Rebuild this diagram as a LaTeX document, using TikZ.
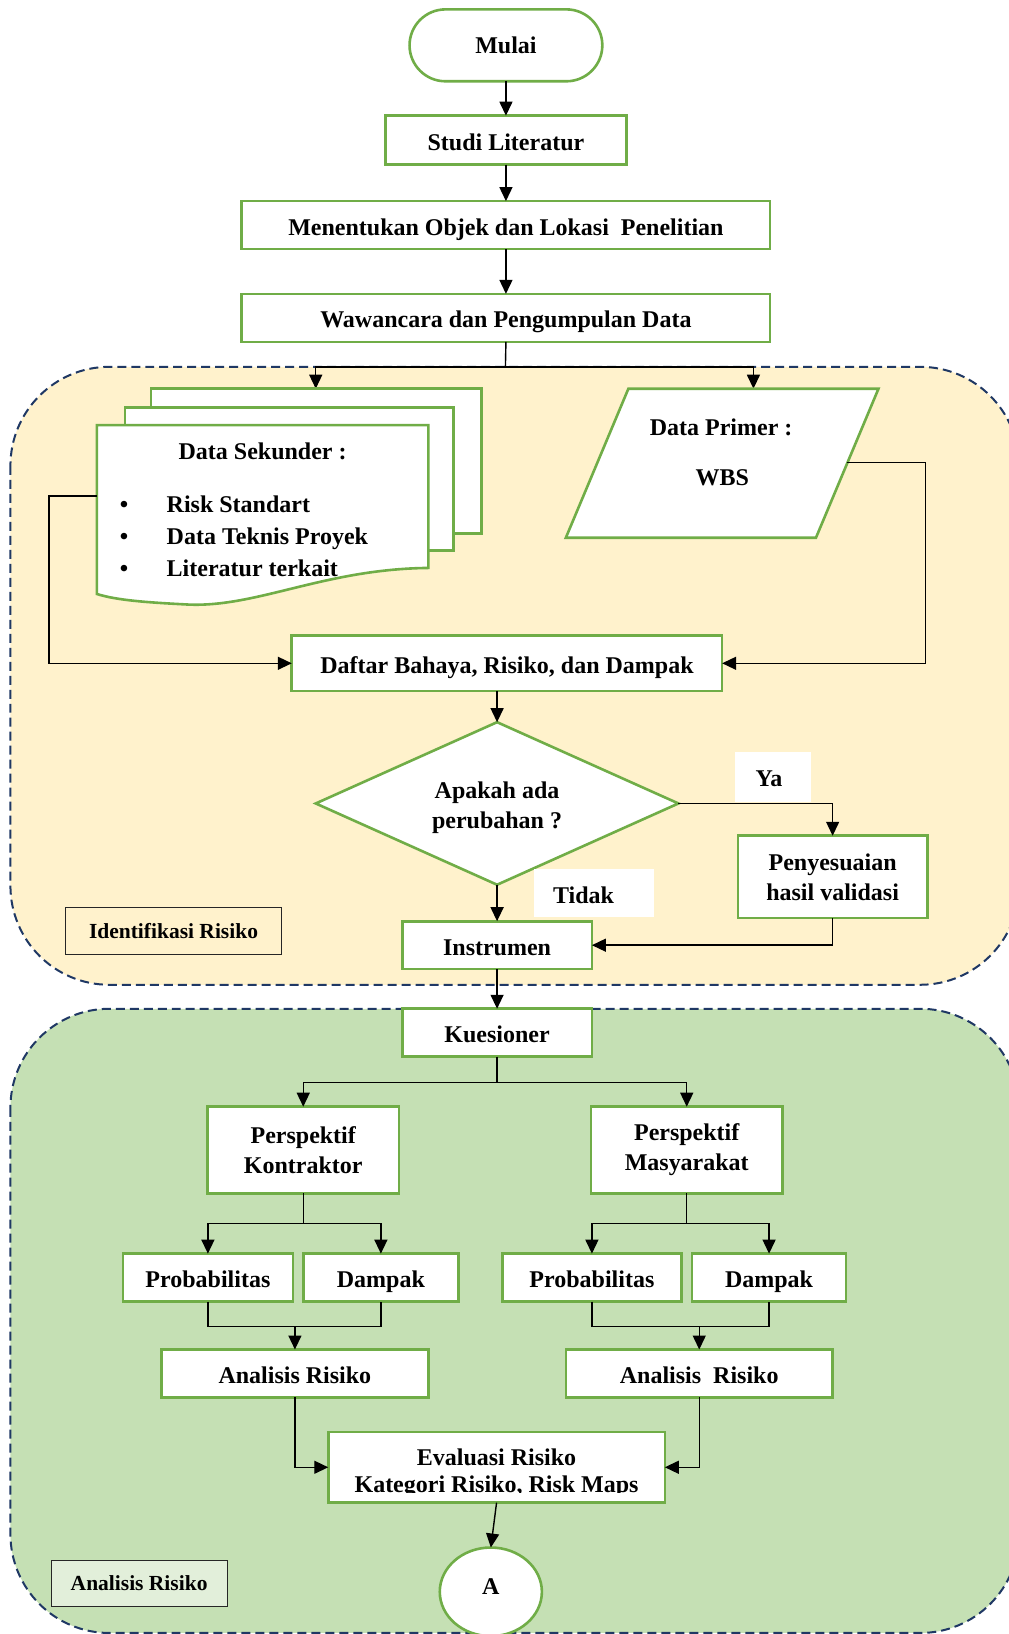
\documentclass[tikz,border=0pt]{standalone}
\usepackage{fontspec}
\setmainfont{Liberation Serif}
\usetikzlibrary{arrows.meta,shapes.geometric,shapes.misc,calc}

\definecolor{boxgreen}{HTML}{70AD47}
\definecolor{zoneyellow}{HTML}{FFF2CC}
\definecolor{zonegreen}{HTML}{C5E0B4}
\definecolor{tagGreen}{HTML}{E2EFDA}
\definecolor{navy}{HTML}{1F3864}

\newlength\unitpx
\setlength\unitpx{1.0424pt}
\newcommand\mainfnt{\fontsize{24}{30}\selectfont\bfseries}
\newcommand\tagfnt{\fontsize{21.5}{26}\selectfont\bfseries}

\tikzset{
  box/.style={draw=boxgreen, line width=2.6pt, fill=white, inner sep=0pt,
    outer sep=0pt, font=\mainfnt, align=center},
  oneline/.style={text height=22pt, text depth=2pt},
  txt/.style={inner sep=0pt, outer sep=0pt, font=\mainfnt, align=center},
  zone/.style={draw=navy, line width=2pt, dash pattern=on 9pt off 5pt,
    rounded corners=95\unitpx},
  tagbox/.style={draw=black!85, line width=1pt, inner sep=0pt, font=\tagfnt},
  blank/.style={fill=white, inner sep=0pt, outer sep=0pt},
  conn/.style={line width=1.4pt, black},
  arr/.style={conn, -{Triangle[length=14pt,width=13pt]}},
}

\begin{document}
\begin{tikzpicture}[x=1\unitpx, y=-1\unitpx]
\useasboundingbox (0,0) rectangle (968,1568);
\clip (0,0) rectangle (968,1568);
\fill[white] (0,0) rectangle (968,1568);

% the two phase zones
\draw[zone, fill=zoneyellow] (10,352) rectangle (978,945);
\draw[zone, fill=zonegreen] (10,968) rectangle (978,1567);

% top sequence
\node[box, rounded rectangle, minimum width=185\unitpx, minimum height=69\unitpx] (mulai) at (485.5,43.5) {Mulai};
\node[box, oneline, minimum width=231\unitpx, minimum height=47\unitpx] (studi) at (485.5,134.5) {Studi Literatur};
\node[box, oneline, minimum width=507\unitpx, minimum height=46\unitpx] (tentu) at (485.5,216) {Menentukan Objek dan Lokasi\ \ Penelitian};
\node[box, oneline, minimum width=507\unitpx, minimum height=46\unitpx] (waw) at (485.5,305) {Wawancara dan Pengumpulan Data};

\draw[arr] (mulai.south) -- (studi.north);
\draw[arr] (studi.south) -- (tentu.north);
\draw[arr] (tentu.south) -- (waw.north);

% branch towards the two data sources
\coordinate (brY) at (485,352);
\coordinate (dsIn) at (303,373);
\coordinate (dpIn) at (723,373);
\draw[conn] (waw.south) -- (brY);
\draw[arr] (brY) -| (dsIn);
\draw[arr] (brY) -| (dpIn);

% secondary data: stacked documents
\draw[boxgreen, line width=2.6pt, fill=white] (145,373) rectangle (462,512);
\draw[boxgreen, line width=2.6pt, fill=white] (120,391) rectangle (435,528);
\draw[boxgreen, line width=2.6pt, fill=white]
  (93,408) -- (411,408) -- (411,545)
  .. controls (310,546) and (245,584) .. (178,580)
  .. controls (140,578) and (112,576) .. (93,570) -- cycle;
\node[txt] at (252,433) {Data Sekunder :};
\foreach \yy/\tt in {490/Risk Standart, 520/Data Teknis Proyek, 551/Literatur terkait}{
  \node[txt, anchor=mid] at (119,\yy) {\textbullet};
  \node[txt, anchor=mid west] at (160,\yy) {\tt};
}
\coordinate (dsOut) at (93,476);

% primary data: parallelogram
\draw[boxgreen, line width=2.6pt, fill=white]
  (603,373) -- (843,373) -- (783,516) -- (543,516) -- cycle;
\node[txt] at (692,410) {Data Primer :};
\node[txt] at (693,458) {WBS};
\coordinate (dpOut) at (813,444);

% hazard list and validation loop
\node[box, oneline, minimum width=413\unitpx, minimum height=53\unitpx] (daftar) at (486.5,636.5) {Daftar Bahaya, Risiko, dan Dampak};
\draw[arr] (dsOut) -- ++(-46,0) |- (daftar.west);
\draw[arr] (dpOut) -- ++(75,0) |- (daftar.east);

\node[box, diamond, minimum width=348\unitpx, minimum height=156\unitpx] (dia) at (477,771) {};
\node[txt] at (477,775) {Apakah ada\\perubahan ?};
\draw[arr] (daftar.south -| dia.north) -- (dia.north);

\node[box, minimum width=182\unitpx, minimum height=79\unitpx] (peny) at (799,841.5) {Penyesuaian\\hasil validasi};
\node[box, oneline, minimum width=182\unitpx, minimum height=46\unitpx] (instr) at (477,907) {Instrumen};

\draw[arr] (dia.east) -| (peny.north);
\node[blank, minimum width=73\unitpx, minimum height=48\unitpx] (yaTag) at (741.5,746) {};
\node[txt] at (738,747) {Ya};

\draw[arr] (dia.south) -- (instr.north);
\node[blank, minimum width=116\unitpx, minimum height=46\unitpx] (tidakTag) at (570,857) {};
\node[txt] at (560,859) {Tidak};

\draw[arr] (peny.south) |- (instr.east);

\node[tagbox, fill=zoneyellow, minimum width=207\unitpx, minimum height=45\unitpx] (identTag) at (166.5,893.5) {Identifikasi Risiko};

% questionnaire and analysis
\node[box, oneline, minimum width=182\unitpx, minimum height=46\unitpx] (kues) at (477,991) {Kuesioner};
\draw[arr] (instr.south) -- (kues.north);

\node[box, minimum width=184\unitpx, minimum height=83\unitpx] (pk) at (291,1103.5) {Perspektif\\Kontraktor};
\node[box, minimum width=184\unitpx, minimum height=83\unitpx] (pm) at (659,1103.5) {Perspektif\\Masyarakat};
\coordinate (kJ) at (477,1039);
\draw[conn] (kues.south) -- (kJ);
\draw[arr] (kJ) -| (pk.north);
\draw[arr] (kJ) -| (pm.north);

\node[box, oneline, minimum width=163\unitpx, minimum height=46\unitpx] (probL) at (199.5,1226) {Probabilitas};
\node[box, oneline, minimum width=149\unitpx, minimum height=46\unitpx] (dampL) at (365.5,1226) {Dampak};
\node[box, oneline, minimum width=172\unitpx, minimum height=46\unitpx] (probR) at (568,1226) {Probabilitas};
\node[box, oneline, minimum width=148\unitpx, minimum height=46\unitpx] (dampR) at (738,1226) {Dampak};

\coordinate (pkJ) at (291,1174);
\coordinate (pmJ) at (659,1174);
\draw[conn] (pk.south) -- (pkJ);
\draw[arr] (pkJ) -| (probL.north);
\draw[arr] (pkJ) -| (dampL.north);
\draw[conn] (pm.south) -- (pmJ);
\draw[arr] (pmJ) -| (probR.north);
\draw[arr] (pmJ) -| (dampR.north);

\node[box, oneline, minimum width=256\unitpx, minimum height=46\unitpx] (arL) at (283,1318) {Analisis Risiko};
\node[box, oneline, minimum width=256\unitpx, minimum height=46\unitpx] (arR) at (671,1318) {Analisis\ \ Risiko};

\coordinate (jL) at (283,1273);
\coordinate (jR) at (671,1273);
\draw[conn] (probL.south) |- (jL) -| (dampL.south);
\draw[arr] (jL) -- (arL.north);
\draw[conn] (probR.south) |- (jR) -| (dampR.south);
\draw[arr] (jR) -- (arR.north);

\node[box, minimum width=323\unitpx, minimum height=68\unitpx] (eval) at (476.5,1408) {};
\begin{scope}
  \clip (315,1374) rectangle (638,1432);
  \node[txt, anchor=base] at (476.5,1406) {Evaluasi Risiko};
  \node[txt, anchor=base] at (476.5,1432) {Kategori Risiko, Risk Maps};
\end{scope}
\draw[arr] (arL.south) |- (eval.west);
\draw[arr] (arR.south) |- (eval.east);

\node[box, ellipse, text height=16pt, text depth=10pt, minimum width=98\unitpx, minimum height=85\unitpx] (endA) at (471,1527.5) {A};
\draw[arr] (eval.south) -- (endA.north);

\node[tagbox, fill=tagGreen, minimum width=169\unitpx, minimum height=45\unitpx] (anaTag) at (133.5,1519.5) {Analisis Risiko};
\end{tikzpicture}
\end{document}
